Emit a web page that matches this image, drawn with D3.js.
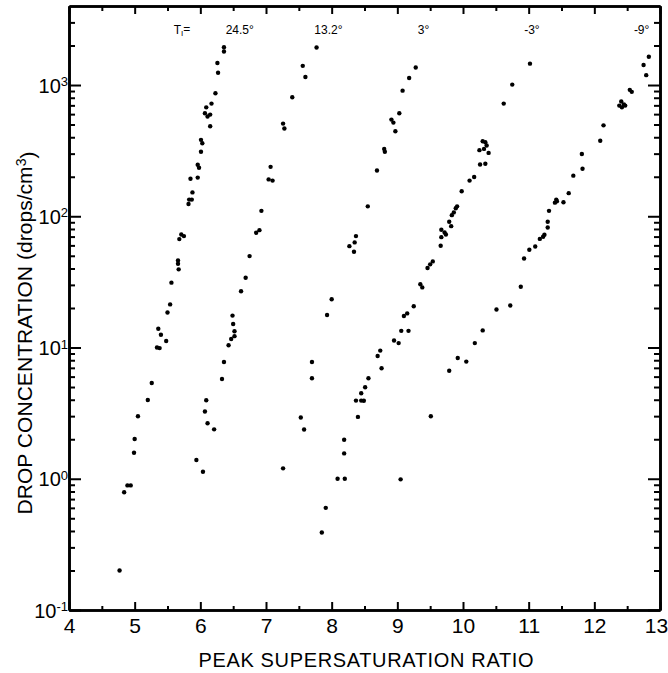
<!DOCTYPE html>
<html>
<head>
<meta charset="utf-8">
<script src="https://cdn.jsdelivr.net/npm/d3@7"></script>
<style>
  body { margin: 0; background: #fff; }
  svg text { font-family: "Liberation Sans", Arial, sans-serif; fill: #000; }
</style>
</head>
<body>
<svg id="chart"></svg>
<script>
// Peak supersaturation ratio vs drop concentration, one run per T1
const seriesNames = ["24.5°", "13.2°", "3°", "-3°", "-9°"];

const x245 = [6.36, 6.36, 6.26, 6.27, 6.23, 6.17, 6.09, 6.07, 6.15, 6.11, 6.15, 6.01, 6.03, 6.01, 5.96,
  5.98, 5.85, 5.96, 5.88, 5.83, 5.87, 5.82, 5.71, 5.75, 5.68, 5.66, 5.66, 5.67, 5.56, 5.54,
  5.50, 5.36, 5.40, 5.48, 5.34, 5.38, 5.26, 5.20, 5.05, 5.00, 4.99, 4.89, 4.94, 4.84, 4.77];
const y245 = [1940, 1800, 1470, 1240, 865, 722, 676, 609, 595, 575, 485, 382, 360, 310, 247,
  234, 193, 197, 152, 134, 134, 124, 72.7, 70.6, 67, 46.1, 43.5, 39.4, 31.2, 21.3,
  18.5, 13.9, 12.5, 11.2, 10.0, 9.9, 5.37, 3.98, 2.99, 2.01, 1.58, 0.89, 0.89, 0.79, 0.20];

const x132 = [7.77, 7.56, 7.60, 7.40, 7.26, 7.28, 7.07, 7.04, 7.10, 6.93, 6.90, 6.85, 6.75, 6.69, 6.62,
  6.49, 6.50, 6.52, 6.52, 6.47, 6.43, 6.36, 6.33, 6.09, 6.07, 6.11, 6.21, 5.94, 6.04];
const y132 = [1930, 1400, 1150, 806, 508, 466, 238, 191, 187, 110, 78.4, 74.8, 49.7, 34.0, 26.8,
  17.5, 15.1, 13.3, 12.2, 11.6, 10.4, 7.76, 5.76, 3.96, 3.25, 2.65, 2.38, 1.39, 1.13];

const x3 = [9.28, 9.18, 9.08, 9.03, 8.91, 8.94, 8.97, 8.80, 8.81, 8.69, 8.55, 8.37, 8.35, 8.27, 8.34,
  8.00, 7.93, 7.70, 7.70, 7.53, 7.58, 7.26];
const y3 = [1360, 1130, 906, 609, 545, 517, 444, 326, 310, 223, 119, 70.6, 63.2, 59.2, 53.7,
  23.3, 17.7, 7.76, 5.83, 2.93, 2.37, 1.20];

const xm3 = [11.02, 10.75, 10.62, 10.30, 10.34, 10.36, 10.39, 10.25, 10.32, 10.26, 10.34, 10.17, 10.10,
  9.98, 9.91, 9.89, 9.86, 9.83, 9.82, 9.79, 9.67, 9.72, 9.74, 9.67, 9.66, 9.54, 9.50, 9.46,
  9.38, 9.35, 9.25, 9.15, 9.10, 9.17, 9.06, 9.02, 8.95, 8.74, 8.70, 8.76, 8.56, 8.51, 8.45,
  8.49, 8.45, 8.37, 8.40, 8.19, 8.19, 8.20, 8.09, 7.91, 7.85];
const ym3 = [1455, 1007, 722, 373, 366, 346, 304, 319, 326, 248, 251, 199, 187,
  155, 119, 115, 107, 102, 84.1, 90.8, 78.9, 75.3, 72.6, 69.3, 59.6, 45.3, 43.0, 40.3,
  28.7, 30.3, 20.6, 18.2, 17.4, 13.4, 13.4, 10.8, 11.3, 9.47, 8.61, 6.95, 5.83, 4.98, 4.48,
  3.93, 3.94, 3.94, 2.96, 1.98, 1.56, 1.0, 1.0, 0.60, 0.39];

const xm9 = [12.83, 12.75, 12.79, 12.54, 12.57, 12.38, 12.41, 12.45, 12.47, 12.42, 12.14, 12.09,
  11.81, 11.82, 11.68, 11.61, 11.53, 11.42, 11.43, 11.40, 11.31, 11.29, 11.29, 11.24, 11.22,
  11.17, 11.10, 11.01, 10.93, 10.88, 10.72, 10.51, 10.30, 10.18, 10.05, 9.92, 9.79, 9.51, 9.05];
const ym9 = [1644, 1422, 1189, 919, 887, 697, 748, 710, 697, 676, 493, 376,
  298, 230, 204, 150, 128, 134, 130, 127, 110, 90.8, 82.2, 72.3, 69.8,
  67.2, 58.9, 55.6, 47.7, 29.0, 20.9, 19.5, 13.5, 10.8, 7.81, 8.32, 6.65, 2.99, 0.99];

const xTicks = [4, 5, 6, 7, 8, 9, 10, 11, 12, 13];
const yExponents = [-1, 0, 1, 2, 3];
// where the T1 labels sit along the top (x units)
const labelX = [6.6, 7.95, 9.4, 11.05, 12.72];

const svgWidth = 668, svgHeight = 673;
const margin = { top: 6, right: 8, bottom: 63, left: 69 };
const width = svgWidth - margin.left - margin.right;
const height = svgHeight - margin.top - margin.bottom;

const svg = d3.select("#chart").attr("width", svgWidth).attr("height", svgHeight);
const g = svg.append("g").attr("transform", `translate(${margin.left},${margin.top})`);

const x = d3.scaleLinear().domain([4, 13]).range([0, width]);
const y = d3.scaleLog().domain([0.1, 4000]).range([height, 0]);

const xMinor = d3.range(4.5, 13, 1);
const yMinor = [];
yExponents.forEach(e => {
  for (let m = 2; m <= 9; m++) {
    const v = m * Math.pow(10, e);
    if (v < 4000) yMinor.push(v);
  }
});
const yMajor = yExponents.map(e => Math.pow(10, e));

function drawAxis(axis, transform) {
  const a = g.append("g").attr("transform", transform).call(axis);
  a.select(".domain").attr("stroke-width", 2.6);
  a.selectAll(".tick line").attr("stroke-width", 2);
  return a;
}

// bottom
const xb = drawAxis(d3.axisBottom(x).tickValues(xTicks).tickSize(-8).tickSizeOuter(0)
  .tickPadding(8).tickFormat(d3.format("d")), `translate(0,${height})`);
xb.attr("font-family", null).attr("font-size", null);
xb.selectAll("text").style("font-size", "21px");
// last label would spill past the right edge
xb.selectAll("text").filter(d => d === 13).attr("x", -4);
drawAxis(d3.axisBottom(x).tickValues(xMinor).tickSize(-4).tickSizeOuter(0).tickFormat(""),
  `translate(0,${height})`);

// top
drawAxis(d3.axisTop(x).tickValues(xTicks).tickSize(-8).tickSizeOuter(0).tickFormat(""), "translate(0,0)");
drawAxis(d3.axisTop(x).tickValues(xMinor).tickSize(-5).tickSizeOuter(0).tickFormat(""), "translate(0,0)");

// left and right
drawAxis(d3.axisLeft(y).tickValues(yMajor).tickSize(-12).tickSizeOuter(0).tickFormat(""), "translate(0,0)");
drawAxis(d3.axisLeft(y).tickValues(yMinor).tickSize(-6).tickSizeOuter(0).tickFormat(""), "translate(0,0)");
drawAxis(d3.axisRight(y).tickValues(yMajor).tickSize(-12).tickSizeOuter(0).tickFormat(""), `translate(${width},0)`);
drawAxis(d3.axisRight(y).tickValues(yMinor).tickSize(-6).tickSizeOuter(0).tickFormat(""), `translate(${width},0)`);

// y tick labels 10^n
const yl = g.append("g").selectAll("text").data(yExponents).join("text")
  .attr("x", -1)
  .attr("y", d => y(Math.pow(10, d)))
  .attr("dy", "0.38em")
  .attr("text-anchor", "end")
  .style("font-size", "20px");
yl.append("tspan").text("10");
yl.append("tspan").attr("dy", "-0.5em").style("font-size", "13px").text(d => d);

// points
const allSeries = [[x245, y245], [x132, y132], [x3, y3], [xm3, ym3], [xm9, ym9]];
allSeries.forEach(([xs, ys]) => {
  g.append("g").selectAll("circle").data(xs).join("circle")
    .attr("cx", d => x(d))
    .attr("cy", (d, i) => y(ys[i]))
    .attr("r", 2.2)
    .attr("fill", "#000");
});

// T1 labels along the top
const topLabels = g.append("g").style("font-size", "12px");
const t1 = topLabels.append("text").attr("x", x(5.72)).attr("y", 28).attr("text-anchor", "middle");
t1.append("tspan").text("T");
t1.append("tspan").attr("dy", "0.3em").style("font-size", "8px").text("I");
t1.append("tspan").attr("dy", "-0.3em").text("=");
topLabels.selectAll("text.t").data(seriesNames).join("text")
  .attr("class", "t")
  .attr("x", (d, i) => x(labelX[i]))
  .attr("y", 28)
  .attr("text-anchor", "middle")
  .text(d => d);

// axis titles
svg.append("text")
  .attr("x", 366).attr("y", 667)
  .attr("text-anchor", "middle")
  .attr("textLength", 335).attr("lengthAdjust", "spacing")
  .style("font-size", "20px")
  .text("PEAK SUPERSATURATION RATIO");

const yt = svg.append("text")
  .attr("transform", "translate(32,333) rotate(-90)")
  .attr("text-anchor", "middle")
  .attr("textLength", 363).attr("lengthAdjust", "spacing")
  .style("font-size", "21px");
yt.append("tspan").text("DROP CONCENTRATION  (drops/cm");
yt.append("tspan").attr("dy", "-0.45em").style("font-size", "14px").text("3");
yt.append("tspan").attr("dy", "0.45em").text(")");
</script>
</body>
</html>
